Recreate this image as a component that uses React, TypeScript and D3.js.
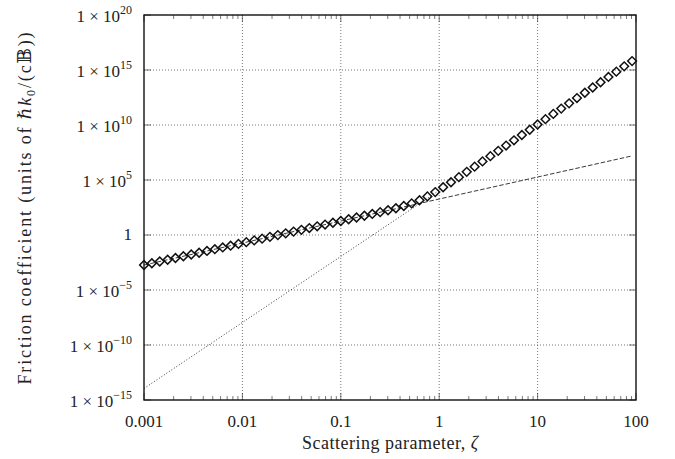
import React from "react";
import * as d3 from "d3";

// scattering parameter values of the computed points
const zeta = [
  0.001, 0.001202, 0.001445, 0.001738, 0.002089, 0.002512, 0.00302, 0.003631, 0.004365, 0.005248,
  0.00631, 0.007586, 0.00912, 0.01096, 0.01318, 0.01585, 0.01905, 0.02291, 0.02754, 0.03311,
  0.03981, 0.04786, 0.05754, 0.06918, 0.08318, 0.1, 0.1202, 0.1445, 0.1738, 0.2089,
  0.2512, 0.302, 0.3631, 0.4365, 0.5248, 0.631, 0.7586, 0.912, 1.096, 1.318,
  1.585, 1.905, 2.291, 2.754, 3.311, 3.981, 4.786, 5.754, 6.918, 8.318,
  10, 12.02, 14.45, 17.38, 20.89, 25.12, 30.2, 36.31, 43.65, 52.48,
  63.1, 75.86, 91.2,
];
// friction coefficient
const friction = [
  1.86e-3, 2.69e-3, 3.89e-3, 5.62e-3, 8.13e-3, 1.17e-2, 1.7e-2, 2.45e-2, 3.55e-2, 5.13e-2,
  7.41e-2, 0.107, 0.155, 0.224, 0.324, 0.468, 0.676, 0.977, 1.41, 2.04,
  2.95, 4.27, 6.17, 8.91, 12.9, 18.6, 26.9, 38.9, 56.5, 82.4,
  120, 178, 271, 433, 747, 1450, 3220, 7960, 2.18e4, 6.2e4,
  1.82e5, 5.5e5, 1.63e6, 4.9e6, 1.48e7, 4.47e7, 1.35e8, 4.07e8, 1.23e9, 3.72e9,
  1.12e10, 3.39e10, 1.02e11, 3.09e11, 9.33e11, 2.82e12, 8.51e12, 2.57e13, 7.76e13, 2.34e14,
  7.08e14, 2.14e15, 6.46e15,
];

// small-zeta asymptote (dashed)
const dashedZeta = [0.001, 91.2];
const dashedValue = [1.86e-3, 1.55e7];
// large-zeta asymptote (dotted)
const dottedZeta = [0.001, 1];
const dottedValue = [1.12e-14, 1.12e4];

const xTicks = [0.001, 0.01, 0.1, 1, 10, 100];
const xTickLabels = ["0.001", "0.01", "0.1", "1", "10", "100"];
const yTicks = [1e-15, 1e-10, 1e-5, 1, 1e5, 1e10, 1e15, 1e20];
const yTickExponents = ["−15", "−10", "−5", "", "5", "10", "15", "20"];

const width = 675;
const height = 459;
const marginLeft = 144;
const marginRight = 39;
const marginTop = 15;
const marginBottom = 59;
const font = "'Liberation Serif', 'DejaVu Serif', serif";

export default function App() {
  const x = d3.scaleLog([0.001, 100], [marginLeft, width - marginRight]);
  const y = d3.scaleLog([1e-15, 1e20], [height - marginBottom, marginTop]);

  const line = d3.line<[number, number]>()
    .x(d => x(d[0]))
    .y(d => y(d[1]));

  const minorTicks = x.ticks().filter(t => !xTicks.includes(t));
  const diamond = d3.symbol(d3.symbolSquare, 38)()!;
  const x0 = marginLeft, x1 = width - marginRight;
  const y0 = height - marginBottom, y1 = marginTop;

  return (
    <div style={{ position: "absolute", left: 0, top: 0 }}>
      <svg width={width} height={height} viewBox={`0 0 ${width} ${height}`} style={{ display: "block", background: "#fff" }}>
        {/* grid */}
        <g stroke="#555" strokeWidth={0.8} strokeDasharray="1,2">
          {xTicks.slice(1, -1).map(t => (
            <line key={"gx" + t} x1={x(t)} x2={x(t)} y1={y0} y2={y1} />
          ))}
          {yTicks.slice(1, -1).map(t => (
            <line key={"gy" + t} x1={x0} x2={x1} y1={y(t)} y2={y(t)} />
          ))}
        </g>
        {/* ticks on all four sides */}
        <g stroke="#222" strokeWidth={0.6}>
          {minorTicks.map(t => (
            <g key={"m" + t}>
              <line x1={x(t)} x2={x(t)} y1={y0} y2={y0 - 4} />
              <line x1={x(t)} x2={x(t)} y1={y1} y2={y1 + 4} />
            </g>
          ))}
          {xTicks.map(t => (
            <g key={"M" + t}>
              <line x1={x(t)} x2={x(t)} y1={y0} y2={y0 - 7} />
              <line x1={x(t)} x2={x(t)} y1={y1} y2={y1 + 7} />
            </g>
          ))}
          {yTicks.map(t => (
            <g key={"My" + t}>
              <line x1={x0} x2={x0 + 7} y1={y(t)} y2={y(t)} />
              <line x1={x1} x2={x1 - 7} y1={y(t)} y2={y(t)} />
            </g>
          ))}
        </g>
        {/* asymptotes */}
        <path
          d={line(d3.zip(dashedZeta, dashedValue) as [number, number][]) ?? ""}
          fill="none" stroke="#222" strokeWidth={0.9} strokeDasharray="4.5,2"
        />
        <path
          d={line(d3.zip(dottedZeta, dottedValue) as [number, number][]) ?? ""}
          fill="none" stroke="#222" strokeWidth={0.9} strokeDasharray="1,2"
        />
        {/* computed points */}
        <g fill="none" stroke="#111" strokeWidth={1.5}>
          {zeta.map((z, i) => (
            <path key={i} d={diamond} transform={`translate(${x(z)},${y(friction[i])}) rotate(45)`} />
          ))}
        </g>
        {/* frame */}
        <rect x={x0} y={y1} width={x1 - x0} height={y0 - y1} fill="none" stroke="#111" strokeWidth={1.4} />
        {/* x tick labels */}
        <g fontFamily={font} fontSize={17} fill="#222" textAnchor="middle">
          {xTicks.map((t, i) => (
            <text key={"xl" + t} x={x(t)} y={y0 + 27}>{xTickLabels[i]}</text>
          ))}
        </g>
        {/* y tick labels */}
        <g fontFamily={font} fontSize={17} fill="#222" textAnchor="end">
          {yTicks.map((t, i) => (
            <text key={"yl" + t} x={x0 - 12} y={y(t) + (yTickExponents[i] ? 7 : 5)}>
              {yTickExponents[i] ? (
                <>
                  1 × 10<tspan fontSize={12} dy={-8}>{yTickExponents[i]}</tspan>
                </>
              ) : "1"}
            </text>
          ))}
        </g>
        {/* axis titles */}
        <text x={(x0 + x1) / 2} y={449} fontFamily={font} fontSize={18} fill="#222" textAnchor="middle"
          textLength={176} lengthAdjust="spacing">
          Scattering parameter, <tspan fontStyle="italic">ζ</tspan>
        </text>
        <text transform={`translate(31,${(y0 + y1) / 2 + 1}) rotate(-90)`} fontFamily={font} fontSize={18} fill="#222"
          textAnchor="middle" textLength={352} lengthAdjust="spacing">
          Friction coefficient (units of <tspan fontStyle="italic">ℏk</tspan><tspan fontSize={12} dy={4}>0</tspan><tspan dy={-4}>/(c𝔹))</tspan>
        </text>
      </svg>
    </div>
  );
}
